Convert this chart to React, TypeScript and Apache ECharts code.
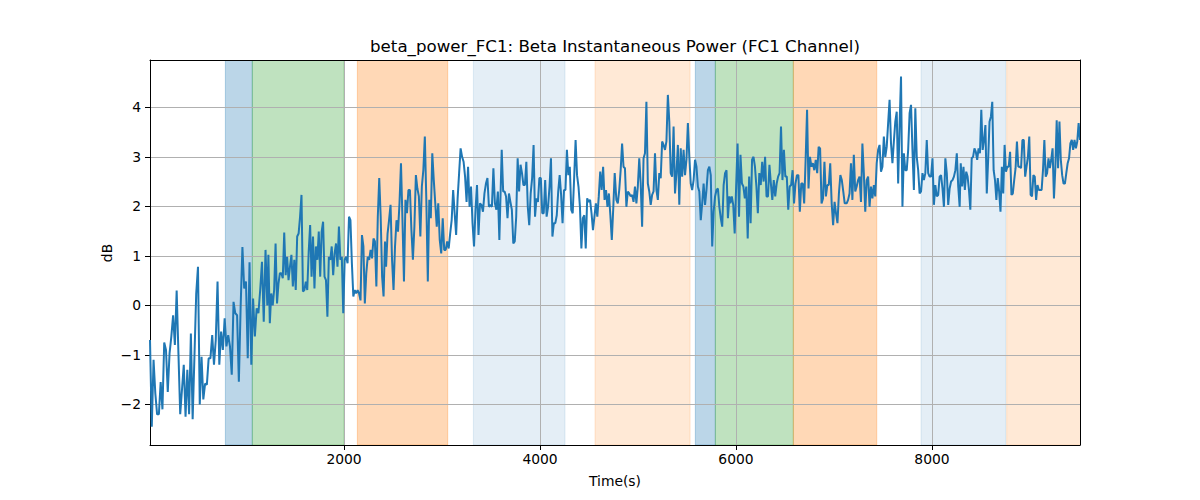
import React, { useEffect, useRef } from "react";
import * as echarts from "echarts";

// ---- data ----
const chartTitle = "beta_power_FC1: Beta Instantaneous Power (FC1 Channel)";
const xLabel = "Time(s)";
const yLabel = "dB";
const xMin = 20;
const xMax = 9510;
const yMin = -2.82;
const yMax = 4.955;
const xTicks = [2000, 4000, 6000, 8000];
const yTicks = [-2, -1, 0, 1, 2, 3, 4];

// segment time bounds (values in each segment are evenly spaced in time)
const segStart = [20, 1228, 2429, 3609, 4779, 5942, 7129, 8293];
const segEnd = [1217, 2418, 3585, 4762, 5932, 7109, 8282, 9510];

const seg1 = [-0.7, -2.45, -1.1, -1.78, -2.2, -2.2, -1.55, -2.1, -0.75, -0.9, -1.75, -0.97, -0.63, -0.2, -0.8, 0.3, -0.97, -2.2, -1.7, -1.2, -2.25, -1.3, -2.2, -0.57, -2.3, -1.04, 0.24, 0.78, -2.0, -1.04, -1.9, -1.58, -1.6, -1.07, -1.07, -0.6, -1.2, -0.7, 0.48, -1.2, -0.53, -0.9, -0.26, -0.83, -0.6, -0.83, -1.4, 0.07, -0.16, -0.2, -1.54, -0.03, 1.18, 0.34, 0.48, -1.07, 0.87, -1.2, 0.14, -0.63, -0.06, -0.16, 0.31, 0.88, -0.33, 1.12, 0.0];
const seg2 = [1.02, -0.36, 0.24, 0.0, 0.31, 1.25, 0.04, 0.44, 0.65, 0.65, 0.55, 1.47, 0.61, 0.98, 0.51, 0.78, 1.02, 0.38, 0.92, 0.31, 1.39, 1.45, 1.79, 2.23, 0.28, 0.31, 0.48, 0.31, 1.08, 1.62, 0.58, 1.39, 0.34, 1.19, 0.92, 1.49, 0.58, 1.49, 1.69, 0.58, 0.51, -0.23, 0.98, 0.92, 1.19, 0.61, 1.05, 1.25, 0.78, 1.59, 0.92, 0.98, -0.16, 0.92, 0.98, 0.85, 1.79, 1.72, 0.85, 0.18, 0.31, 0.24, 0.31, 0.24, 0.1, 1.42, 1.19, 0.04, 0.65, 0.98, 0.92, 1.12, 0.95, 1.35, 1.29, 0.38, 1.79, 2.57, 1.79, 0.58, 0.18, 1.29];
const seg3 = [0.78, 1.45, 1.72, 2.03, 0.92, 0.31, 1.19, 1.72, 1.49, 2.06, 2.87, 1.72, 0.48, 2.13, 1.86, 2.33, 2.33, 1.52, 0.92, 1.59, 2.63, 2.36, 2.2, 1.39, 2.4, 2.73, 3.41, 2.13, 0.48, 2.13, 1.76, 3.07, 2.53, 2.06, 1.59, 2.06, 1.32, 1.05, 1.76, 1.12, 1.12, 1.29, 1.15, 1.45, 1.72, 2.33, 1.86, 1.42, 2.16, 2.67, 3.17, 3.0, 2.9, 2.6, 2.09, 2.8, 1.99, 2.4, 1.66, 1.19, 1.93, 2.43, 1.42, 2.06, 2.03, 1.89, 2.26, 2.46, 2.57, 1.99, 2.03, 1.99, 2.77, 2.06, 1.93, 2.3, 1.32];
const seg4 = [3.14, 2.3, 2.3, 2.2, 1.76, 2.26, 2.09, 1.93, 1.25, 1.29, 1.79, 2.97, 2.3, 2.84, 2.67, 2.43, 2.43, 2.9, 1.99, 1.62, 2.26, 2.57, 3.24, 1.79, 2.16, 2.09, 2.57, 2.57, 1.86, 1.86, 2.53, 1.79, 1.99, 2.4, 2.97, 1.39, 1.66, 1.66, 1.82, 2.3, 2.63, 2.23, 1.66, 2.33, 2.33, 3.14, 2.63, 2.8, 1.93, 1.86, 2.57, 3.34, 2.63, 2.4, 1.99, 1.15, 1.76, 1.82, 1.15, 2.16, 2.09, 2.13, 1.86, 1.52, 1.79, 2.06, 1.79, 2.2, 2.7, 2.33, 2.8, 2.13, 2.33, 1.99, 2.26, 1.82, 1.32, 1.96, 2.67];
const seg5 = [2.13, 2.06, 2.33, 2.73, 3.27, 2.8, 2.77, 1.99, 2.3, 2.26, 2.2, 2.23, 2.09, 2.4, 2.06, 2.4, 2.97, 2.46, 1.59, 2.97, 3.07, 4.11, 2.46, 2.3, 2.03, 2.23, 2.3, 3.07, 2.33, 2.13, 2.67, 2.57, 3.31, 3.24, 3.14, 3.31, 4.25, 3.71, 2.67, 2.6, 3.61, 2.26, 2.67, 3.24, 2.03, 3.17, 2.6, 3.14, 2.63, 2.94, 3.68, 3.0, 2.46, 2.33, 2.53, 2.94, 2.8, 2.4, 2.3, 1.72, 2.06, 2.46, 2.03, 2.33, 2.73, 2.8, 2.63, 1.19, 1.89, 2.2, 2.33, 2.36, 1.99, 1.76, 1.59, 2.43, 2.67, 2.73, 1.76, 2.2];
const seg6 = [2.06, 2.2, 2.03, 1.45, 2.4, 3.27, 1.79, 3.04, 2.46, 2.4, 2.16, 2.4, 1.35, 2.6, 1.66, 2.94, 3.0, 2.8, 2.4, 1.86, 2.67, 2.43, 2.9, 2.5, 3.0, 2.2, 2.2, 2.84, 2.46, 2.13, 2.53, 2.2, 2.46, 2.6, 2.67, 3.61, 2.53, 3.14, 2.6, 2.6, 1.93, 2.4, 2.43, 2.73, 2.06, 2.46, 2.63, 2.63, 1.89, 2.46, 2.46, 2.06, 2.94, 3.95, 2.36, 3.0, 2.8, 2.87, 2.73, 2.94, 2.67, 3.2, 3.17, 2.06, 2.16, 2.9, 2.2, 2.43, 2.43, 2.87, 2.06, 1.62, 2.09, 1.86, 1.66, 2.26, 2.63, 2.53, 2.3, 2.06];
const seg7 = [2.06, 2.13, 2.26, 2.87, 2.13, 3.04, 2.3, 2.4, 2.53, 2.6, 2.09, 3.27, 2.67, 1.89, 2.53, 2.6, 1.99, 2.4, 2.16, 2.43, 2.2, 2.87, 3.14, 3.24, 2.7, 2.8, 3.41, 3.0, 3.2, 3.68, 4.15, 3.27, 2.87, 3.31, 3.71, 3.91, 2.46, 3.64, 4.62, 1.99, 3.07, 2.73, 2.73, 3.14, 3.88, 4.05, 3.14, 2.33, 3.98, 3.0, 2.73, 2.26, 2.3, 2.67, 2.53, 2.67, 3.34, 2.67, 2.6, 2.6, 2.97, 2.03, 2.43, 2.2, 2.23, 2.6, 2.63, 2.36, 1.99, 2.97, 2.67, 2.03, 2.36, 2.5, 2.53, 2.6, 2.73, 3.07, 2.4, 1.99];
const seg8 = [2.87, 2.4, 2.8, 2.33, 2.7, 2.6, 2.33, 1.93, 2.97, 3.0, 3.17, 3.1, 2.94, 3.17, 3.07, 3.95, 3.14, 3.34, 3.64, 2.26, 2.94, 3.71, 3.81, 4.11, 2.73, 2.53, 2.13, 2.57, 2.3, 1.89, 2.8, 2.26, 3.24, 2.7, 2.8, 2.8, 3.1, 2.23, 2.26, 2.53, 2.77, 3.31, 2.8, 2.8, 2.77, 3.34, 3.34, 2.6, 2.8, 3.0, 3.41, 2.23, 2.2, 2.63, 2.6, 2.13, 2.43, 2.33, 2.33, 2.33, 2.73, 3.34, 2.6, 2.67, 2.97, 2.77, 2.94, 3.17, 2.16, 2.77, 3.74, 2.77, 3.71, 2.94, 2.63, 2.46, 2.46, 2.67, 2.87, 2.97, 3.27, 3.34, 3.14, 3.34, 3.17, 3.31, 3.68, 3.34];
const segments = [seg1, seg2, seg3, seg4, seg5, seg6, seg7, seg8];

// shaded spans
const spanStart = [789, 1064, 2136, 3320, 4561, 5585, 5789, 6585, 7888, 8762];
const spanEnd = [1064, 2000, 3058, 4255, 5531, 5789, 6585, 7436, 8752, 9600];
const spanKind = [0, 1, 2, 3, 4, 0, 1, 2, 3, 4];
const spanColors = [
  "rgba(31,119,180,0.3)",
  "rgba(44,160,44,0.3)",
  "rgba(255,127,14,0.3)",
  "rgba(31,119,180,0.12)",
  "rgba(255,127,14,0.17)",
];

const FONT = "DejaVu Sans";

function buildLine(): number[][] {
  const out: number[][] = [];
  segments.forEach((vals, s) => {
    const t0 = segStart[s];
    const t1 = segEnd[s];
    const n = vals.length;
    vals.forEach((v, i) => {
      out.push([t0 + ((t1 - t0) * i) / (n - 1), v]);
    });
  });
  return out;
}

const fmtNum = (v: number) => (v < 0 ? "\u2212" + Math.abs(v) : String(v));

export default function App() {
  const ref = useRef<HTMLDivElement>(null);
  useEffect(() => {
    if (!ref.current) return;
    const chart = echarts.init(ref.current, null, { renderer: "svg" });
    const lineData = buildLine();
    const spanData = spanStart.map((s, i) => [s, spanEnd[i], spanKind[i]]);
    const tickLabel = { fontFamily: FONT, fontSize: 13.89, color: "#000" };
    const option: any = {
      animation: false,
      backgroundColor: "#fff",
      grid: { left: 150, top: 60, width: 930, height: 385, containLabel: false },
      xAxis: [
        {
          type: "value",
          min: xMin,
          max: xMax,
          z: 1,
          axisLine: { show: true, onZero: false, lineStyle: { color: "#000", width: 1 } },
          axisTick: { show: true, length: 5, customValues: xTicks, lineStyle: { color: "#000", width: 1 } },
          axisLabel: { ...tickLabel, margin: 7, customValues: xTicks, formatter: (v: number) => fmtNum(v) },
          splitLine: { show: true, lineStyle: { color: "#b0b0b0", width: 1 } },
        },
        {
          type: "value",
          position: "top",
          min: xMin,
          max: xMax,
          z: 3,
          axisLine: { show: true, onZero: false, lineStyle: { color: "#000", width: 1 } },
          axisTick: { show: false },
          axisLabel: { show: false },
          splitLine: { show: false },
        },
      ],
      yAxis: [
        {
          type: "value",
          min: yMin,
          max: yMax,
          z: 1,
          axisLine: { show: true, onZero: false, lineStyle: { color: "#000", width: 1 } },
          axisTick: { show: true, length: 5, customValues: yTicks, lineStyle: { color: "#000", width: 1 } },
          axisLabel: { ...tickLabel, margin: 9, customValues: yTicks, formatter: (v: number) => fmtNum(v) },
          splitLine: { show: true, lineStyle: { color: "#b0b0b0", width: 1 } },
        },
        {
          type: "value",
          position: "right",
          min: yMin,
          max: yMax,
          z: 3,
          axisLine: { show: true, onZero: false, lineStyle: { color: "#000", width: 1 } },
          axisTick: { show: false },
          axisLabel: { show: false },
          splitLine: { show: false },
        },
      ],
      series: [
        {
          type: "custom",
          z: 0,
          clip: true,
          xAxisIndex: 0,
          yAxisIndex: 0,
          encode: { x: [0, 1] },
          data: spanData,
          renderItem: (params: any, api: any) => {
            const xa = api.coord([api.value(0), 0])[0];
            const xb = api.coord([api.value(1), 0])[0];
            const cs = params.coordSys;
            const color = spanColors[api.value(2)];
            return {
              type: "rect",
              shape: { x: xa, y: cs.y, width: xb - xa, height: cs.height },
              style: { fill: color, stroke: color, lineWidth: 1 },
            };
          },
        },
        {
          type: "line",
          z: 2,
          xAxisIndex: 0,
          yAxisIndex: 0,
          data: lineData,
          showSymbol: false,
          symbol: "none",
          clip: true,
          lineStyle: { color: "#1f77b4", width: 2 },
        },
      ],
      graphic: [
        {
          type: "text",
          x: 615,
          y: 46,
          style: { text: chartTitle, font: `16.67px "${FONT}"`, fill: "#000", align: "center", verticalAlign: "middle" },
        },
        {
          type: "text",
          x: 615,
          y: 481,
          style: { text: xLabel, font: `13.89px "${FONT}"`, fill: "#000", align: "center", verticalAlign: "middle" },
        },
        {
          type: "text",
          x: 107,
          y: 253,
          rotation: Math.PI / 2,
          style: { text: yLabel, font: `13.89px "${FONT}"`, fill: "#000", align: "center", verticalAlign: "middle" },
        },
      ],
    };
    chart.setOption(option);
    return () => chart.dispose();
  }, []);
  return (
    <div
      ref={ref}
      style={{ position: "fixed", left: 0, top: 0, width: 1200, height: 500, background: "#fff" }}
    />
  );
}
